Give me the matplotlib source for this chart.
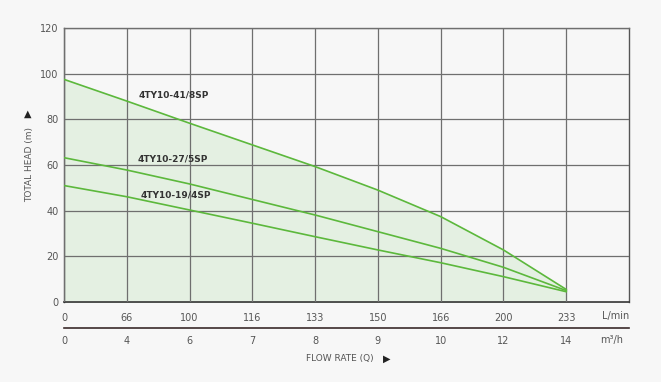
import matplotlib.pyplot as plt

flow_lmin = ["0", "66", "100", "116", "133", "150", "166", "200", "233"]
flow_m3h = ["0", "4", "6", "7", "8", "9", "10", "12", "14"]

head_41_8sp = [97.5, 88.0, 78.3, 68.8, 59.3, 49.0, 37.4, 22.8, 5.5]
head_27_5sp = [63.2, 57.8, 51.7, 44.9, 38.1, 30.8, 23.5, 15.2, 5.0]
head_19_4sp = [51.0, 46.1, 40.3, 34.5, 28.6, 22.8, 17.2, 11.1, 4.5]

models = ["4TY10-41/8SP", "4TY10-27/5SP", "4TY10-19/4SP"]
label_pos = [(1.18, 90.8), (1.17, 62.8), (1.22, 47.0)]

bg = "#f7f7f7"
green = "#5cb83c"
fill = "#e4f0e2"
grid = "#6f6f6f"
text_c = "#555555"

fig = plt.figure(figsize=(6.61, 3.82), dpi=100, facecolor=bg)
ax = fig.add_axes([64 / 661, 80 / 382, 565 / 661, 274 / 382])
ax.set_facecolor(bg)

x = list(range(len(flow_lmin)))
ax.fill_between(x, 0, head_41_8sp, color=fill, zorder=1)
for series in [head_41_8sp, head_27_5sp, head_19_4sp]:
    ax.plot(x, series, color=green, lw=1.2, zorder=3)

for name, (tx, ty) in zip(models, label_pos):
    ax.text(tx, ty, name, fontsize=6.5, color="#333333", fontweight="bold",
            ha="left", va="center", zorder=4)

ax.set_xlim(0, 9)
ax.set_ylim(0, 120)
ax.set_xticks(x)
ax.set_xticklabels(flow_lmin)
ax.set_yticks(range(0, 121, 20))
ax.tick_params(axis="both", length=0, labelsize=7, colors=text_c)
ax.tick_params(axis="x", pad=8)
ax.tick_params(axis="y", pad=4)
ax.grid(True, color=grid, lw=0.9, zorder=2)
ax.set_axisbelow(False)
for side in ["top", "left", "right"]:
    ax.spines[side].set_color(grid)
    ax.spines[side].set_linewidth(1.0)
ax.spines["right"].set_color("#555555")
ax.spines["bottom"].set_color("#333333")
ax.spines["bottom"].set_linewidth(1.2)
ax.spines["left"].set_color("#444444")

# second flow scale in m3/h under the first one
sec = ax.secondary_xaxis(-0.095)
sec.set_xticks(x)
sec.set_xticklabels(flow_m3h)
sec.tick_params(length=0, labelsize=7, colors=text_c, pad=6)
sec.spines["bottom"].set_color("#3a2a2a")
sec.spines["bottom"].set_linewidth(1.2)

ax.text(1.0, -0.05, "L/min", transform=ax.transAxes, ha="right", va="center",
        fontsize=7, color=text_c)
ax.text(0.99, -0.14, "m³/h", transform=ax.transAxes, ha="right", va="center",
        fontsize=7, color=text_c)

fig.text(30 / 661, 1 - 165 / 382, "TOTAL HEAD (m)", rotation=90,
         ha="center", va="center", fontsize=6.5, color=text_c)
fig.text(28 / 661, 1 - 114 / 382, "▲", ha="center", va="center",
         fontsize=7, color="#222222")
fig.text(340 / 661, 1 - 359 / 382, "FLOW RATE (Q)", ha="center", va="center",
         fontsize=6.5, color=text_c)
fig.text(387 / 661, 1 - 359 / 382, "▶", ha="center", va="center",
         fontsize=7, color="#222222")

fig.savefig("out.png", dpi=100, facecolor=bg)
